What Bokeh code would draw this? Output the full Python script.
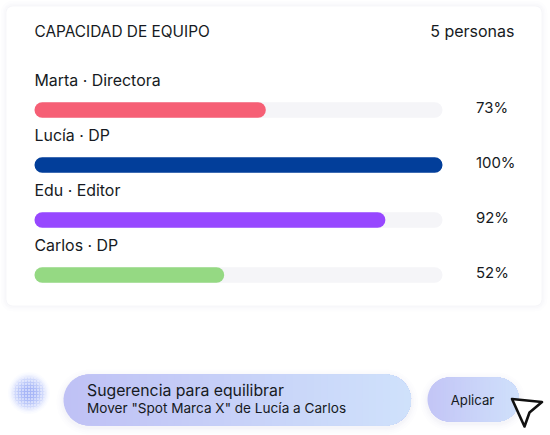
from bokeh.plotting import figure
from bokeh.embed import file_html
from bokeh.resources import INLINE
from bokeh.models import Range1d, ColumnDataSource
from bokeh.core.properties import value
import numpy as np

# --- data ---
title = "CAPACIDAD DE EQUIPO"
count_label = "5 personas"
names = ["Marta · Directora", "Lucía · DP", "Edu · Editor", "Carlos · DP"]
fill_values = [56.7, 100, 86, 46.5]
pct_labels = ["73%", "100%", "92%", "52%"]
colors = ["#F65F75", "#023E9A", "#9747FF", "#95D983"]
hint_title = "Sugerencia para equilibrar"
hint_text = 'Mover "Spot Marca X" de Lucía a Carlos'
button_label = "Aplicar"

W, H = 550, 435
FONT = value("Inter")
INK = "#161a22"

p = figure(width=W, height=H, output_backend="svg", toolbar_location=None,
           x_range=Range1d(0, W), y_range=Range1d(H, 0), min_border=0,
           x_axis_type=None, y_axis_type=None, outline_line_color=None,
           background_fill_color="white", border_fill_color="white")
p.grid.visible = False

# percentage scale: 0..100 spans the track
TX0, TX1 = 34, 442
u = (TX1 - TX0) / 100
p.extra_x_ranges = {"pct": Range1d(-TX0 / u, (W - TX0) / u)}


def txt(x, y, s, size, align="left", color=INK):
    p.text([x], [y], text=[s], text_font=FONT, text_font_size=f"{size}px",
           text_baseline="middle", text_align=align, text_color=color)


def pill_poly(x0, x1, y0, y1, cut=None, n=24):
    r = (y1 - y0) / 2
    cy = (y0 + y1) / 2
    a = np.linspace(-np.pi / 2, np.pi / 2, n)
    xs = np.concatenate([x1 - r + r * np.cos(a), (x0 + r - r * np.cos(a))[::-1]])
    ys = np.concatenate([cy + r * np.sin(a), (cy + r * np.sin(a))[::-1]])
    if cut is not None:
        xs = np.maximum(xs, cut)
    return xs, ys


def gradient_pill(x0, x1, y0, y1, c0, c1, steps=50):
    for g, al in [(7, .012), (5, .016), (3, .02), (1.5, .025)]:
        xs, ys = pill_poly(x0 - g, x1 + g, y0 - g + 2, y1 + g + 2)
        p.patch(xs, ys, fill_color="#6b6fa8", fill_alpha=al, line_color=None)
    c0, c1 = np.array(c0), np.array(c1)
    cuts = np.linspace(x0, x1, steps, endpoint=False)
    xss, yss, cols = [], [], []
    for i, c in enumerate(cuts):
        xs, ys = pill_poly(x0, x1, y0, y1, cut=c)
        t = i / (steps - 1)
        rgb = (c0 + (c1 - c0) * t).round().astype(int)
        xss.append(xs.tolist()); yss.append(ys.tolist())
        cols.append("#%02x%02x%02x" % tuple(int(v) for v in rgb))
    p.patches(xss, yss, fill_color=cols, line_color=None)


# --- card ---
CX0, CX1, CY0, CY1 = 6, 541, 6, 305
for g, al in [(6, .006), (4, .008), (2.5, .01), (1, .014)]:
    p.quad(left=[CX0 - g], right=[CX1 + g], top=[CY0 - g], bottom=[CY1 + g],
           fill_color="#3a3f66", fill_alpha=al, line_color=None, border_radius=int(6 + g))
p.quad(left=[CX0], right=[CX1], top=[CY0], bottom=[CY1],
       fill_color="white", line_color=None, border_radius=6)

txt(34, 30.5, title, 15.4)
txt(514, 30.5, count_label, 16, align="right")

rows = list(range(len(names)))
bar_y = [109.5 + 55 * i for i in rows]
name_y = [79.5 + 55 * i for i in rows]
pct_y = [107.5 + 55 * i for i in rows]

src = ColumnDataSource(dict(y=bar_y, v=fill_values, full=[100] * len(rows), c=colors))
p.hbar(y="y", left=0, right="full", height=15.5, source=src, x_range_name="pct",
       fill_color="#F5F5F8", line_color=None, border_radius=8)
p.hbar(y="y", left=0, right="v", height=15.5, source=src, x_range_name="pct",
       fill_color="c", line_color=None, border_radius=8)
for n, ny, lab, py in zip(names, name_y, pct_labels, pct_y):
    txt(34, ny, n, 15.9)
    txt(475.5, py, lab, 14.9)

# --- orb ---
ocx, ocy = 28.5, 392.5
for r, al in [(21, .03), (19.5, .04), (18, .06), (16.5, .1), (15, .16), (12, .2), (9, .2), (6, .15)]:
    p.circle([ocx], [ocy], radius=r, fill_color="#7A90F4", fill_alpha=al, line_color=None)
step = 3.0
gx, gy = np.meshgrid(np.arange(-5, 6), np.arange(-5, 6))
dots = [(a, b) for a, b in zip(gx.ravel(), gy.ravel()) if a * a + b * b <= 30]
p.rect([ocx + a * step for a, b in dots], [ocy + b * step for a, b in dots],
       width=1.7, height=1.7, fill_color="#F0F3FF", fill_alpha=.8, line_color=None)

# --- suggestion pill ---
gradient_pill(63, 410.5, 374, 425, (0xBF, 0xC1, 0xF5), (0xCF, 0xE1, 0xFB))
txt(86.5, 390, hint_title, 15.8)
txt(86.5, 407.5, hint_text, 13.6)

# --- button ---
gradient_pill(427, 518.5, 377, 421, (0xC3, 0xC5, 0xF6), (0xCF, 0xE0, 0xFB))
txt(472, 399, button_label, 13.2, align="center")

# --- cursor ---
p.patch([511.5, 541.5, 529, 524], [398.5, 401.5, 412, 426],
        fill_color="white", line_color="#111111", line_width=2.6, line_join="round")

open("out.html", "w").write(file_html(p, INLINE))
